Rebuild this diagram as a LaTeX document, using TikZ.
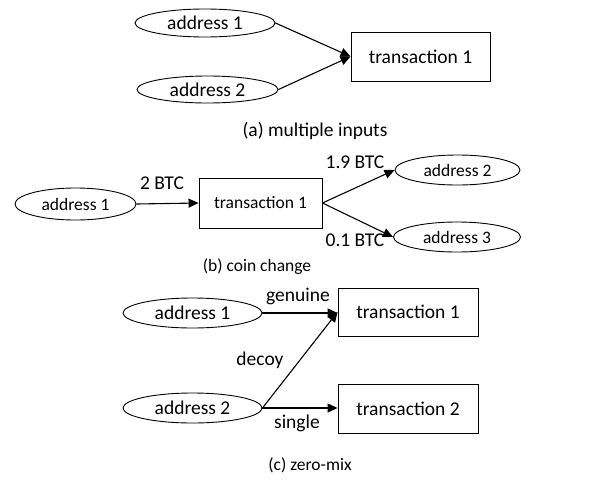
\documentclass[tikz,border=0pt]{standalone}
\usepackage{fontspec}
\setmainfont{Carlito}
\usetikzlibrary{shapes.geometric,arrows.meta}
\begin{document}
\begin{tikzpicture}[x=1pt,y=-1pt,
  addr/.style={draw,ellipse,line width=0.9pt,inner sep=0pt},
  txbox/.style={draw,rectangle,line width=0.9pt,inner sep=0pt},
  flow/.style={line width=1.1pt,-{Triangle[length=10pt,width=9pt]}},
  big/.style={font=\fontsize{19.5}{22}\selectfont},
  mid/.style={font=\fontsize{17.5}{20}\selectfont},
  lbl/.style={inner sep=0pt}]
\useasboundingbox (0,0) rectangle (605,485);

% (a) several inputs spent together
\node[addr,big,minimum width=140pt,minimum height=28pt] (a1) at (205,23) {address 1};
\node[addr,big,minimum width=141pt,minimum height=27pt] (a2) at (207.5,89.5) {address 2};
\node[txbox,big,minimum width=139pt,minimum height=49pt] (at1) at (420.5,56.5) {transaction 1};
\draw[flow] (a1.east) -- (at1.west);
\draw[flow] (a2.east) -- (at1.west);
\node[lbl,big] (capa) at (315,131) {(a) multiple inputs};

% (b) payment with change back
\node[addr,mid,minimum width=121pt,minimum height=32pt] (b1) at (75.5,204) {address 1};
\node[txbox,mid,minimum width=123pt,minimum height=50pt] (bt1) at (260.5,203) {transaction 1};
\node[addr,mid,minimum width=125pt,minimum height=30pt] (b2) at (457.5,170) {address 2};
\node[addr,mid,minimum width=127pt,minimum height=30pt] (b3) at (457,237) {address 3};
\draw[flow] (b1.east) -- (bt1.west);
\draw[flow] (bt1.east) -- (b2.west);
\draw[flow] (bt1.east) -- (b3.west);
\node[lbl,big] (l2btc) at (162,183) {2 BTC};
\node[lbl,big] (l19) at (355,162) {1.9 BTC};
\node[lbl,big] (l01) at (355,240) {0.1 BTC};
\node[lbl,mid] (capb) at (257,267) {(b) coin change};

% (c) decoy input mixed into a transaction
\node[addr,big,minimum width=139pt,minimum height=30pt] (c1) at (192.5,313) {address 1};
\node[addr,big,minimum width=139pt,minimum height=30pt] (c2) at (192.5,408) {address 2};
\node[txbox,big,minimum width=140pt,minimum height=48pt] (ct1) at (408,312) {transaction 1};
\node[txbox,big,minimum width=140pt,minimum height=49pt] (ct2) at (408,408.5) {transaction 2};
\draw[flow] (c1.east) -- (c1.east -| ct1.west);
\draw[flow] (c2.east) -- (ct1.west);
\draw[flow] (c2.east) -- (c2.east -| ct2.west);
\node[lbl,big] (lgen) at (298,296) {genuine};
\node[lbl,big] (ldec) at (260,360) {decoy};
\node[lbl,big] (lsin) at (297,423) {single};
\node[lbl,mid] (capc) at (310,465) {(c) zero-mix};
\end{tikzpicture}
\end{document}
